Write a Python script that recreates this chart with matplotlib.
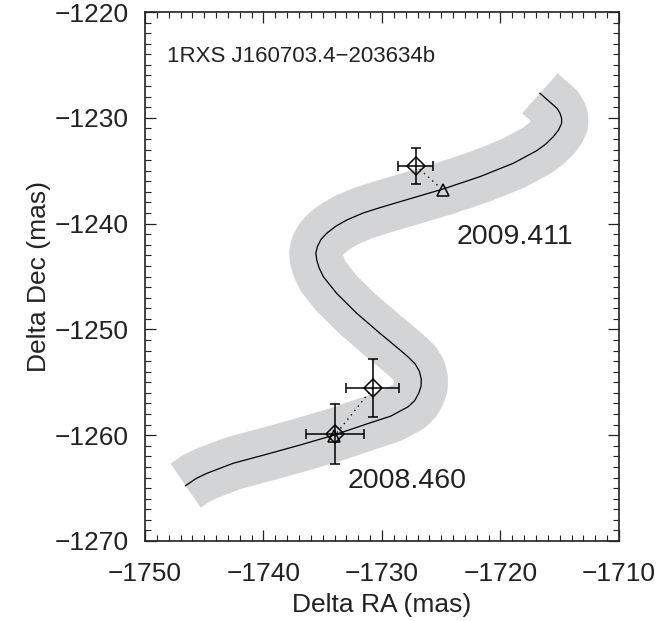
import matplotlib
matplotlib.use("Agg")
import matplotlib.pyplot as plt
from matplotlib.ticker import MultipleLocator

plt.rcParams['font.family'] = ['Liberation Sans', 'DejaVu Sans']

# Model track (parallax + proper motion)
track_ra = [-1746.57, -1745.70, -1744.80, -1742.55, -1739.73, -1736.92, -1734.11,
            -1731.29, -1729.25, -1727.82, -1727.25, -1726.89, -1726.70, -1726.69,
            -1726.85, -1727.20, -1727.80, -1728.48, -1730.17, -1732.13, -1733.83,
            -1734.95, -1735.30, -1735.51, -1735.58, -1735.46, -1735.15, -1734.67,
            -1733.90, -1732.97, -1731.60, -1730.17, -1727.36, -1724.87, -1721.73,
            -1718.92, -1716.95, -1716.20, -1715.54, -1715.10, -1714.84, -1714.85,
            -1714.98, -1715.20, -1715.54, -1716.10, -1716.67]
track_dec = [-1264.77, -1264.10, -1263.61, -1262.65, -1261.80, -1260.93, -1260.01,
             -1258.94, -1258.19, -1257.33, -1256.75, -1256.01, -1255.35, -1254.69,
             -1253.95, -1253.27, -1252.60, -1251.94, -1250.37, -1248.48, -1246.59,
             -1245.02, -1244.20, -1243.44, -1242.80, -1242.19, -1241.50, -1240.92,
             -1240.25, -1239.66, -1239.00, -1238.49, -1237.56, -1236.74, -1235.56,
             -1234.30, -1233.11, -1232.50, -1231.78, -1231.15, -1230.52, -1230.00,
             -1229.57, -1229.15, -1228.79, -1228.25, -1227.68]

# Measured positions (diamonds)
obs_ra = [-1733.97, -1730.79, -1727.16]
obs_dec = [-1259.92, -1255.56, -1234.53]
obs_ra_err = [2.43, 2.26, 1.46]
obs_dec_err = [2.84, 2.74, 1.68]

# Predicted background positions (triangles)
pred_ra = [-1734.02, -1724.87]
pred_dec = [-1260.07, -1236.82]

epoch_labels = ["2008.460", "2009.411"]
epoch_label_pos = [(-1732.9, -1264.33), (-1723.7, -1241.27)]
target_name = "1RXS J160703.4\u2212203634b"

fig = plt.figure(figsize=(6.68, 6.21), dpi=100)
ax = fig.add_axes([145/668, 1-541/621, (619-145)/668, (541-12)/621])

band_col = '#d3d4d6'
ax.plot(track_ra, track_dec, color=band_col, lw=38.5, solid_capstyle='butt',
        solid_joinstyle='round', zorder=1)
ax.plot(track_ra, track_dec, color='black', lw=0.9, zorder=2,
        solid_joinstyle='round')

# dotted connections
ax.plot([obs_ra[1], pred_ra[0]], [obs_dec[1], pred_dec[0]], color='black',
        lw=1.0, ls=(0, (1, 3)), zorder=3)
ax.plot([obs_ra[2], pred_ra[1]], [obs_dec[2], pred_dec[1]], color='black',
        lw=1.0, ls=(0, (1, 3)), zorder=3)

ax.plot(pred_ra, pred_dec, ls='none', marker='^', ms=8, mfc='none', mec='black',
        mew=1.1, zorder=4)
ax.errorbar(obs_ra, obs_dec, xerr=obs_ra_err, yerr=obs_dec_err, fmt='D', ms=9,
            mfc='none', mec='black', mew=1.1, ecolor='black', elinewidth=1.1,
            capsize=3.5, capthick=1.1, zorder=5)

for lab, (x, y) in zip(epoch_labels, epoch_label_pos):
    ax.text(x, y, lab, fontsize=20.5, ha='left', va='center', color='#222222')

ax.text(0.046, 0.915, target_name, transform=ax.transAxes, fontsize=16,
        ha='left', va='center', color='#222222')

ax.set_xlim(-1750, -1710)
ax.set_ylim(-1270, -1220)
ax.xaxis.set_major_locator(MultipleLocator(10))
ax.xaxis.set_minor_locator(MultipleLocator(1))
ax.yaxis.set_major_locator(MultipleLocator(10))
ax.yaxis.set_minor_locator(MultipleLocator(1))
ax.tick_params(which='both', direction='in', top=True, right=True, colors='#222222')
ax.tick_params(which='major', length=8, width=0.9, labelsize=19)
ax.tick_params(axis='x', which='major', pad=15)
ax.tick_params(axis='y', which='major', pad=12)
ax.tick_params(which='minor', length=4, width=0.8)
for s in ax.spines.values():
    s.set_linewidth(1.2)
    s.set_color('#222222')

ax.set_xlabel('Delta RA (mas)', fontsize=19, color='#222222', labelpad=5)
ax.set_ylabel('Delta Dec (mas)', fontsize=19, color='#222222', labelpad=2)

fig.savefig('out.png', dpi=100)
